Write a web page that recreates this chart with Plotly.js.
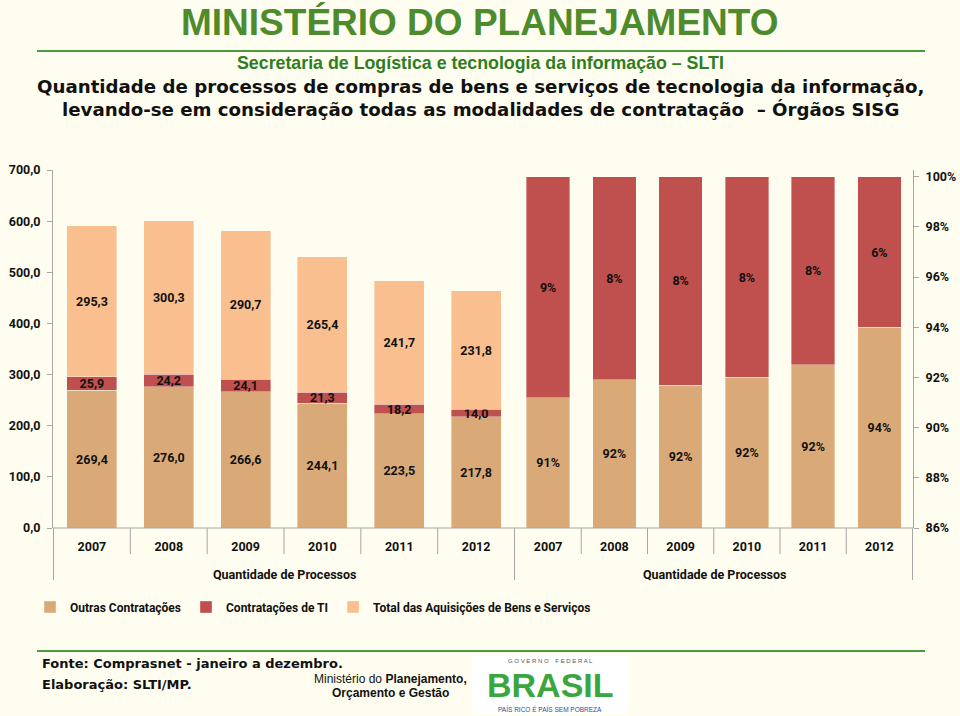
<!DOCTYPE html>
<html>
<head>
<meta charset="utf-8">
<script src="https://cdn.plot.ly/plotly-3.0.1.min.js"></script>
<style>
html,body{margin:0;padding:0;background:#fffdef;}
#chart{width:960px;height:716px;}
</style>
</head>
<body>
<div id="chart"></div>
<script>
// ---- data ----
const years = ['2007','2008','2009','2010','2011','2012'];
const outras = [269.4, 276.0, 266.6, 244.1, 223.5, 217.8];
const contratTI = [25.9, 24.2, 24.1, 21.3, 18.2, 14.0];
const totalAquis = [295.3, 300.3, 290.7, 265.4, 241.7, 231.8];
const pctOutras = [91.2, 91.9, 91.7, 92.0, 92.5, 94.0];
const pctOutrasLabels = ['91%','92%','92%','92%','92%','94%'];
const pctTILabels = ['9%','8%','8%','8%','8%','6%'];
const leftTicks = [0,100,200,300,400,500,600,700];
const leftTickText = ['0,0','100,0','200,0','300,0','400,0','500,0','600,0','700,0'];
const rightTicks = [86,88,90,92,94,96,98,100];
const rightTickText = ['86%','88%','90%','92%','94%','96%','98%','100%'];
const seriesNames = ['Outras Contratações','Contratações de TI','Total das Aquisições de Bens e Serviços'];
const groupLabel = 'Quantidade de Processos';

// ---- styling ----
const cTan = '#d9aa78', cRed = '#c0504d', cPeach = '#f9bf8f';
const FAM = 'Roboto, Open Sans, sans-serif';
const lblFont = {family:FAM, size:12.5, color:'#111', weight:'bold'};
const fmt = v => v.toFixed(1).replace('.', ',');

// layout geometry helpers (pixel -> paper)
const ML = 53, MR = 47, MT = 170, MB = 188, W = 960, H = 716;
const PW = W - ML - MR, PH = H - MT - MB;
const px = p => (p - ML) / PW;
const py = p => (H - MB - p) / PH;
const split = px(515);

function barTrace(name, x, y, base, color, text, xa, ya, show, width){
  const t = {type:'bar', name:name, x:x, y:y, xaxis:xa, yaxis:ya, width:width,
    marker:{color:color, line:{color:'rgba(255,255,255,0.6)', width:0.6}},
    text:text, textposition:'inside', insidetextanchor:'middle', constraintext:'none',
    textfont:lblFont, showlegend:show, hoverinfo:'x+name'};
  if (base !== null) t.base = base;
  return t;
}

const traces = [
  barTrace(seriesNames[0], years, outras, null, cTan, outras.map(fmt), 'x', 'y', true, 0.65),
  barTrace(seriesNames[1], years, contratTI, null, cRed, contratTI.map(fmt), 'x', 'y', true, 0.65),
  barTrace(seriesNames[2], years, totalAquis, null, cPeach, totalAquis.map(fmt), 'x', 'y', true, 0.65),
  barTrace(seriesNames[0], years, pctOutras.map(v => v - 86), pctOutras.map(() => 86), cTan, pctOutrasLabels, 'x2', 'y2', false, 0.66),
  barTrace(seriesNames[1], years, pctOutras.map(v => 100 - v), pctOutras, cRed, pctTILabels, 'x2', 'y2', false, 0.66)
];

const tickFont = {family:FAM, size:12.5, color:'#111', weight:'bold'};
const gray = '#a6a6a6';

const shapes = [];
// baseline
shapes.push({type:'line', xref:'paper', yref:'paper', x0:0, x1:1, y0:0, y1:0, line:{color:gray, width:1}});
// category separators
for (let i = 0; i <= 6; i++) {
  const edge = (i === 0 || i === 6);
  shapes.push({type:'line', xref:'x', yref:'paper', x0:i-0.5, x1:i-0.5, y0:0, y1: edge ? py(580) : py(554), line:{color:gray, width:1}});
  if (i > 0) shapes.push({type:'line', xref:'x2', yref:'paper', x0:i-0.5, x1:i-0.5, y0:0, y1: i===6 ? py(580) : py(554), line:{color:gray, width:1}});
}
// header & footer rules
shapes.push({type:'line', xref:'paper', yref:'paper', x0:px(37), x1:px(925), y0:py(51), y1:py(51), line:{color:'#4c9a3c', width:2}});
shapes.push({type:'line', xref:'paper', yref:'paper', x0:px(37), x1:px(925), y0:py(651), y1:py(651), line:{color:'#4c9a3c', width:2}});
// logo box
shapes.push({type:'rect', xref:'paper', yref:'paper', x0:px(472), x1:px(628), y0:py(656), y1:py(714), fillcolor:'#ffffff', line:{width:0}});

const ann = [];
function addText(text, x, y, font, xanchor){
  ann.push({text:text, xref:'paper', yref:'paper', x:px(x), y:py(y), showarrow:false, xanchor:xanchor||'center', yanchor:'middle', font:font});
}
// headers
addText('MINISTÉRIO DO PLANEJAMENTO', 480, 23, {family:'Liberation Sans, Arial, sans-serif', size:37, color:'#4e8b2d', weight:'bold'});
addText('Secretaria de Logística e tecnologia da informação – SLTI', 480, 63, {family:'Liberation Sans, Arial, sans-serif', size:17.8, color:'#2e7d1f', weight:'bold'});
addText('Quantidade de processos de compras de bens e serviços de tecnologia da informação,', 480, 87, {family:'DejaVu Sans, sans-serif', size:18.2, color:'#111', weight:'bold'});
addText('levando-se em consideração todas as modalidades de contratação  – Órgãos SISG', 480, 109, {family:'DejaVu Sans, sans-serif', size:18.2, color:'#111', weight:'bold'});
// group labels
addText(groupLabel, 284, 574, {family:FAM, size:12.5, color:'#111', weight:'bold'});
addText(groupLabel, 714, 574, {family:FAM, size:12.5, color:'#111', weight:'bold'});
// footer
addText('Fonte: Comprasnet - janeiro a dezembro.', 40, 663, {family:'DejaVu Sans, sans-serif', size:13, color:'#111', weight:'bold'}, 'left');
addText('Elaboração: SLTI/MP.', 40, 684, {family:'DejaVu Sans, sans-serif', size:13, color:'#111', weight:'bold'}, 'left');
addText('Ministério do <b>Planejamento,</b>', 469, 679, {family:'Liberation Sans, sans-serif', size:12, color:'#111'}, 'right');
addText('<b>Orçamento e Gestão</b>', 390, 693, {family:'Liberation Sans, sans-serif', size:12, color:'#111'});
// logo text
addText('G O V E R N O    F E D E R A L', 550, 661, {family:'Liberation Sans, sans-serif', size:6, color:'#555'});
addText('BRASIL', 550, 685, {family:'Liberation Sans, sans-serif', size:34, color:'#3aa640', weight:'bold'});
addText('PAÍS RICO É PAÍS SEM POBREZA', 550, 709, {family:'Liberation Sans, sans-serif', size:6.5, color:'#1f4f9a'});

const layout = {
  width: W, height: H,
  margin: {l:ML, r:MR, t:MT, b:MB, pad:0},
  paper_bgcolor: '#fffdef', plot_bgcolor: '#fffdef',
  barmode: 'stack', bargap: 0.35,
  font: {family:FAM, color:'#111'},
  xaxis: {domain:[0, split], type:'category', anchor:'y', showgrid:false, zeroline:false, showline:false,
          ticks:'', tickfont:tickFont, ticklabelstandoff:9, fixedrange:true},
  xaxis2: {domain:[split, 1], type:'category', anchor:'y2', showgrid:false, zeroline:false, showline:false,
          ticks:'', tickfont:tickFont, ticklabelstandoff:9, fixedrange:true},
  yaxis: {range:[0,700], anchor:'x', tickvals:leftTicks, ticktext:leftTickText, showgrid:false, zeroline:false,
          showline:true, linecolor:gray, ticks:'outside', ticklen:5, tickcolor:gray, tickfont:tickFont, ticklabelstandoff:4},
  yaxis2: {range:[86, 100.27], anchor:'x2', side:'right', tickvals:rightTicks, ticktext:rightTickText, showgrid:false, zeroline:false,
          showline:true, linecolor:gray, ticks:'outside', ticklen:5, tickcolor:gray, tickfont:tickFont, ticklabelstandoff:4},
  showlegend: true,
  legend: {orientation:'h', x:px(30), xanchor:'left', y:py(607), yanchor:'middle', bgcolor:'rgba(0,0,0,0)',
           font:{family:FAM, size:12, color:'#111', weight:'bold'}, traceorder:'normal', itemclick:false},
  shapes: shapes,
  annotations: ann
};

Plotly.newPlot('chart', traces, layout, {displayModeBar:false, staticPlot:true});
</script>
</body>
</html>
